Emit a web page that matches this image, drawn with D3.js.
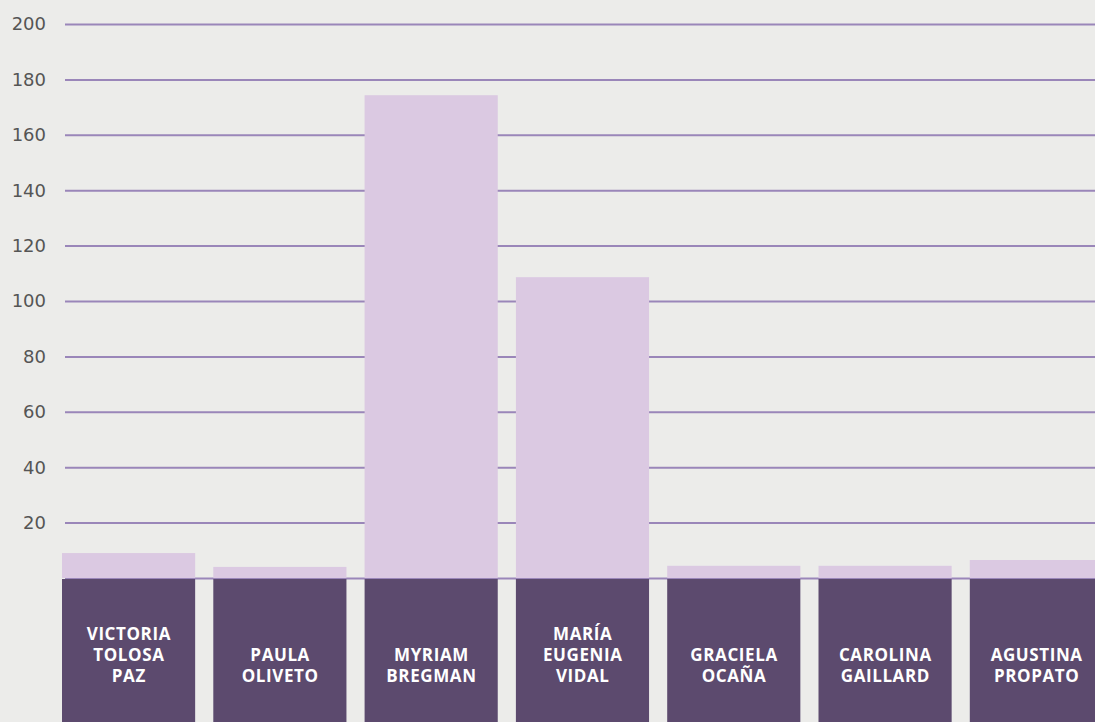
<!DOCTYPE html>
<html>
<head>
<meta charset="utf-8">
<script src="https://cdn.jsdelivr.net/npm/d3@7"></script>
<style>
  html, body { margin: 0; padding: 0; background: #ececea; }
  svg { display: block; }
</style>
</head>
<body>
<script>
// datos
var candidatas = [
    ["VICTORIA", "TOLOSA", "PAZ"],
    ["PAULA", "OLIVETO"],
    ["MYRIAM", "BREGMAN"],
    ["MARÍA", "EUGENIA", "VIDAL"],
    ["GRACIELA", "OCAÑA"],
    ["CAROLINA", "GAILLARD"],
    ["AGUSTINA", "PROPATO"]
];
var valores = [9, 4, 174.3, 108.6, 4.4, 4.4, 6.5];
var ticks = [20, 40, 60, 80, 100, 120, 140, 160, 180, 200];

var width = 1095,
    height = 722,
    margin = { top: 24, left: 62, baseline: 578 },
    paso = 151.3;

var svg = d3.select("body").append("svg")
    .attr("width", width)
    .attr("height", height);

svg.append("rect")
    .attr("width", width)
    .attr("height", height)
    .attr("fill", "#ececea");

var x = d3.scaleBand()
    .domain(d3.range(candidatas.length))
    .range([margin.left, margin.left + paso * (candidatas.length - 0.12)])
    .paddingInner(0.12)
    .paddingOuter(0)
    .align(0);

var y = d3.scaleLinear()
    .domain([0, 200])
    .range([margin.baseline, margin.top]);

// lineas de la grilla (incluye el cero)
var grid = svg.append("g")
    .call(d3.axisLeft(y).tickValues([0].concat(ticks)).tickSize(0).tickFormat(""));
grid.select(".domain").remove();
grid.selectAll(".tick line").remove();
grid.selectAll(".tick").append("line")
    .attr("x1", 65)
    .attr("x2", width)
    .attr("stroke", "#9a86b9")
    .attr("stroke-width", 2);

// etiquetas del eje
svg.append("g")
    .selectAll("text")
    .data(ticks)
    .enter().append("text")
    .attr("x", 46)
    .attr("y", function (d) { return y(d); })
    .attr("dy", "0.36em")
    .attr("text-anchor", "end")
    .attr("font-family", "'DejaVu Sans', sans-serif")
    .attr("font-size", 18)
    .attr("fill", "#555")
    .text(function (d) { return d; });

// barras claras
svg.append("g")
    .selectAll("rect")
    .data(valores)
    .enter().append("rect")
    .attr("x", function (d, i) { return x(i); })
    .attr("width", x.bandwidth())
    .attr("y", function (d) { return y(d); })
    .attr("height", function (d) { return y(0) - y(d); })
    .attr("fill", "#dbc9e2");

// cajas oscuras con los nombres
var caja = svg.append("g")
    .selectAll("g")
    .data(candidatas)
    .enter().append("g")
    .attr("transform", function (d, i) { return "translate(" + x(i) + "," + (y(0) + 1) + ")"; });

caja.append("rect")
    .attr("width", x.bandwidth())
    .attr("height", height - y(0))
    .attr("fill", "#5c4a6e");

caja.each(function (d) {
    var n = d.length;
    d3.select(this).selectAll("text")
        .data(d)
        .enter().append("text")
        .attr("x", x.bandwidth() / 2 + 0.3)
        .attr("y", function (t, j) { return 97 - (n - 1 - j) * 21.3; })
        .attr("dy", "0.36em")
        .attr("text-anchor", "middle")
        .attr("font-family", "'Open Sans', sans-serif")
        .attr("font-weight", "bold")
        .attr("font-size", 17)
        .attr("letter-spacing", 0.6)
        .attr("fill", "#ffffff")
        .text(function (t) { return t; });
});
</script>
</body>
</html>
